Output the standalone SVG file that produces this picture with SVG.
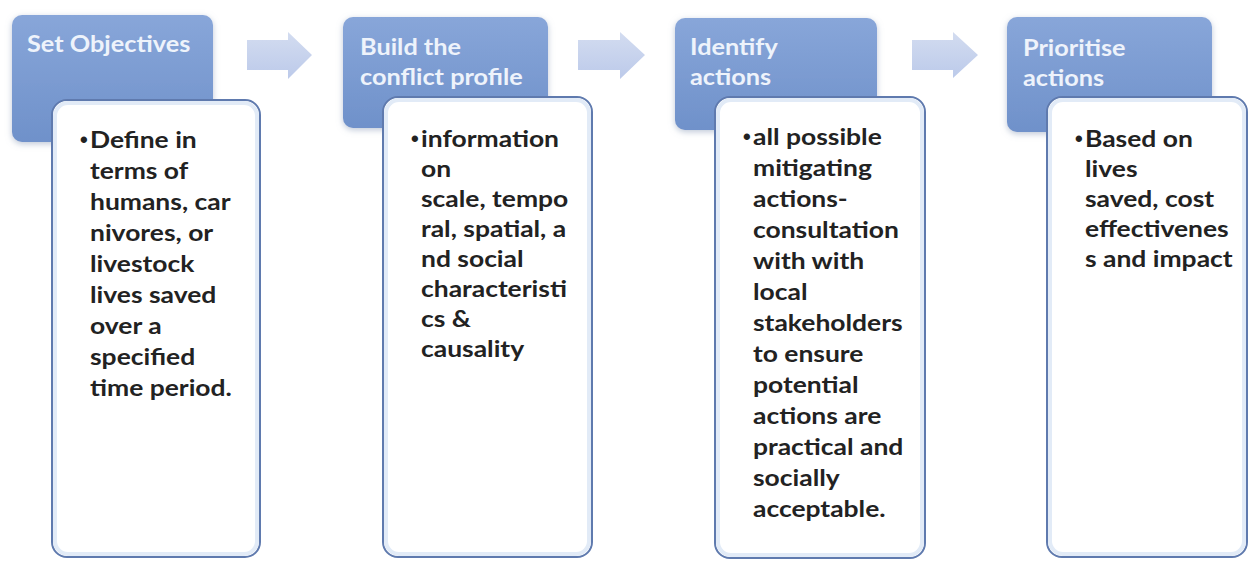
<svg xmlns="http://www.w3.org/2000/svg" width="1249" height="561" viewBox="0 0 1249 561">
  <defs>
    <linearGradient id="headFill" x1="0" y1="0" x2="0" y2="1">
      <stop offset="0" stop-color="#88a6d9"/>
      <stop offset="1" stop-color="#6f91ca"/>
    </linearGradient>
    <linearGradient id="arrowFill" x1="0" y1="0" x2="0" y2="1">
      <stop offset="0" stop-color="#d3dcf0"/>
      <stop offset="1" stop-color="#bccaea"/>
    </linearGradient>
    <filter id="soft" x="-10%" y="-10%" width="120%" height="125%">
      <feGaussianBlur in="SourceAlpha" stdDeviation="3"/>
      <feOffset dx="0" dy="2" result="b"/>
      <feFlood flood-color="#8a9bb8" flood-opacity="0.55"/>
      <feComposite in2="b" operator="in"/>
      <feMerge><feMergeNode/><feMergeNode in="SourceGraphic"/></feMerge>
    </filter>
  </defs>
  <style>
    .head { fill: url(#headFill); filter: url(#soft); }
    .card { fill: #ffffff; stroke: #5f7aae; stroke-width: 2; }
    .cardIn { fill: none; stroke: #e2ebf7; stroke-width: 4; }
    .arrow { fill: url(#arrowFill); }
    .htxt { font-family: Lato, "Open Sans", "Liberation Sans", sans-serif; font-weight: bold; font-size: 22px; fill: #eef3fb; }
    .btxt { font-family: Lato, "Open Sans", "Liberation Sans", sans-serif; font-weight: bold; font-size: 23px; fill: #222222; }
    .dot { font-family: "Liberation Sans", sans-serif; font-weight: bold; font-size: 22px; fill: #222222; }
  </style>

  <!-- connectors: block arrows between stages -->
  <g id="connectors">
    <path class="arrow" d="M247,40 H288 V32 L312,55 L288,79 V70 H247 Z"/>
    <path class="arrow" d="M578,40 H620 V32 L645,55 L620,79 V70 H578 Z"/>
    <path class="arrow" d="M912,40 H953 V32 L978,55 L953,78 V70 H912 Z"/>
  </g>

  <!-- stage 1 -->
  <g id="stage-set-objectives">
    <rect class="head" x="12" y="15" width="201" height="127" rx="10"/>
    <text class="htxt" transform="translate(27 0) scale(1.15 1)"><tspan x="0" y="52">Set Objectives</tspan></text>
    <rect class="card" x="52" y="100" width="208" height="457" rx="15"/>
    <rect class="cardIn" x="55" y="103" width="202" height="451" rx="13"/>
    <text class="dot" x="80" y="147">•</text>
    <text class="btxt" transform="translate(90 0) scale(1.15 1)">
      <tspan x="0" y="148">Define in</tspan>
      <tspan x="0" y="179">terms of</tspan>
      <tspan x="0" y="210">humans, car</tspan>
      <tspan x="0" y="241">nivores, or</tspan>
      <tspan x="0" y="272">livestock</tspan>
      <tspan x="0" y="303">lives saved</tspan>
      <tspan x="0" y="334">over a</tspan>
      <tspan x="0" y="365">specified</tspan>
      <tspan x="0" y="396">time period.</tspan>
    </text>
  </g>

  <!-- stage 2 -->
  <g id="stage-conflict-profile">
    <rect class="head" x="343" y="17" width="205" height="111" rx="10"/>
    <text class="htxt" transform="translate(360 0) scale(1.15 1)">
      <tspan x="0" y="55">Build the</tspan>
      <tspan x="0" y="85">conflict profile</tspan>
    </text>
    <rect class="card" x="383" y="97" width="209" height="460" rx="15"/>
    <rect class="cardIn" x="386" y="100" width="203" height="454" rx="13"/>
    <text class="dot" x="411" y="146">•</text>
    <text class="btxt" transform="translate(421 0) scale(1.15 1)">
      <tspan x="0" y="147">information</tspan>
      <tspan x="0" y="177">on</tspan>
      <tspan x="0" y="207">scale, tempo</tspan>
      <tspan x="0" y="237">ral, spatial, a</tspan>
      <tspan x="0" y="267">nd social</tspan>
      <tspan x="0" y="297">characteristi</tspan>
      <tspan x="0" y="327">cs &amp;</tspan>
      <tspan x="0" y="357">causality</tspan>
    </text>
  </g>

  <!-- stage 3 -->
  <g id="stage-identify-actions">
    <rect class="head" x="675" y="18" width="202" height="112" rx="10"/>
    <text class="htxt" transform="translate(690 0) scale(1.15 1)">
      <tspan x="0" y="55">Identify</tspan>
      <tspan x="0" y="85">actions</tspan>
    </text>
    <rect class="card" x="715" y="97" width="210" height="461" rx="15"/>
    <rect class="cardIn" x="718" y="100" width="204" height="455" rx="13"/>
    <text class="dot" x="743" y="144">•</text>
    <text class="btxt" transform="translate(753 0) scale(1.15 1)">
      <tspan x="0" y="145">all possible</tspan>
      <tspan x="0" y="176">mitigating</tspan>
      <tspan x="0" y="207">actions-</tspan>
      <tspan x="0" y="238">consultation</tspan>
      <tspan x="0" y="269">with with</tspan>
      <tspan x="0" y="300">local</tspan>
      <tspan x="0" y="331">stakeholders</tspan>
      <tspan x="0" y="362">to ensure</tspan>
      <tspan x="0" y="393">potential</tspan>
      <tspan x="0" y="424">actions are</tspan>
      <tspan x="0" y="455">practical and</tspan>
      <tspan x="0" y="486">socially</tspan>
      <tspan x="0" y="517">acceptable.</tspan>
    </text>
  </g>

  <!-- stage 4 -->
  <g id="stage-prioritise-actions">
    <rect class="head" x="1007" y="17" width="205" height="115" rx="10"/>
    <text class="htxt" transform="translate(1023 0) scale(1.15 1)">
      <tspan x="0" y="56">Prioritise</tspan>
      <tspan x="0" y="86">actions</tspan>
    </text>
    <rect class="card" x="1047" y="97" width="200" height="460" rx="15"/>
    <rect class="cardIn" x="1050" y="100" width="194" height="454" rx="13"/>
    <text class="dot" x="1075" y="146">•</text>
    <text class="btxt" transform="translate(1085 0) scale(1.15 1)">
      <tspan x="0" y="147">Based on</tspan>
      <tspan x="0" y="177">lives</tspan>
      <tspan x="0" y="207">saved, cost</tspan>
      <tspan x="0" y="237">effectivenes</tspan>
      <tspan x="0" y="267">s and impact</tspan>
    </text>
  </g>
</svg>
